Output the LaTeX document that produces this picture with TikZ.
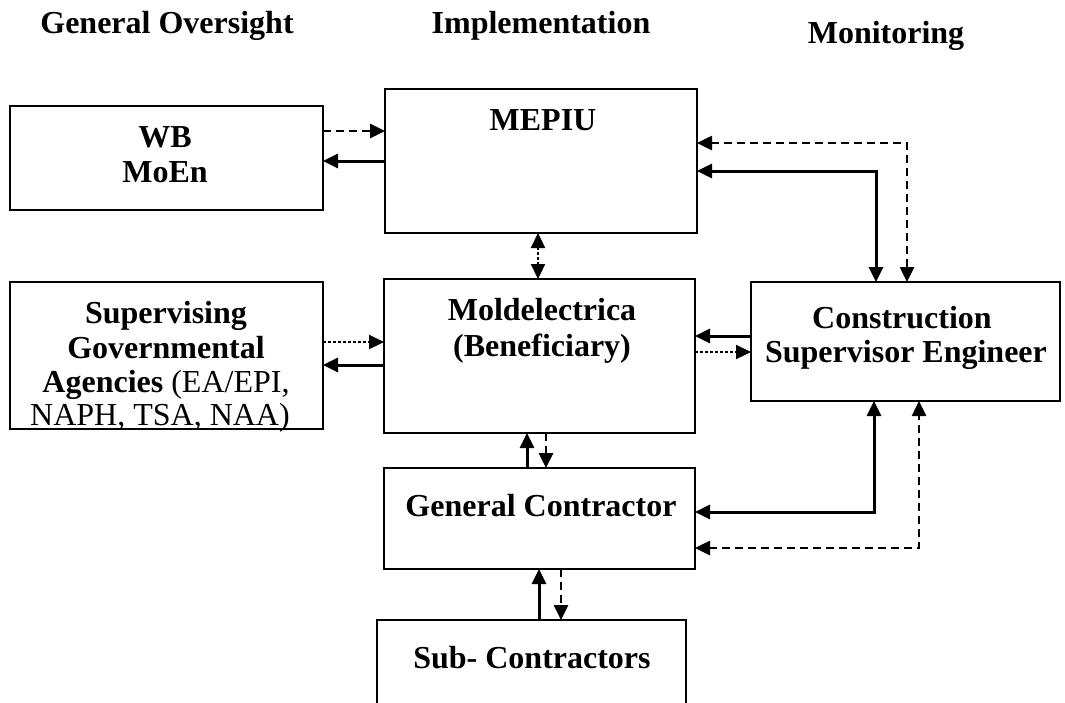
\documentclass[tikz,border=0pt]{standalone}
\usepackage{fontspec}
\setmainfont{Liberation Serif}
\usetikzlibrary{arrows.meta}
\begin{document}
\begin{tikzpicture}[x=1pt,y=-1pt,
  box/.style={draw, line width=2pt, outer sep=0pt, inner sep=0pt, anchor=north west},
  txt/.style={anchor=base, inner sep=0pt, font=\fontsize{32}{33}\selectfont\bfseries},
  plaintxt/.style={anchor=base, inner sep=0pt, font=\fontsize{32}{33}\selectfont},
  head/.style={anchor=base, inner sep=0pt, font=\fontsize{32}{33}\selectfont\bfseries},
  tip/.style={-{Triangle[length=15pt,width=14pt]}},
  tips/.style={{Triangle[length=15pt,width=14pt]}-{Triangle[length=15pt,width=14pt]}},
  solidline/.style={line width=3pt},
  dashline/.style={line width=2.6pt, dash pattern=on 8pt off 5pt},
  dotline/.style={line width=2.2pt, dash pattern=on 2.5pt off 2.5pt}]
\useasboundingbox (0,0) rectangle (1065,702);
\fill[white] (0,0) rectangle (1065,702);
% headers
\node[head] (h1) at (167,33) {General Oversight};
\node[head] (h2) at (541,33) {Implementation};
\node[head] (h3) at (886,43) {Monitoring};
% boxes
\node[box, minimum width=313pt, minimum height=104pt] (wb) at (10,106) {};
\node[box, minimum width=313pt, minimum height=147pt] (sga) at (10,282) {};
\node[box, minimum width=312pt, minimum height=144pt] (mepiu) at (385,89) {};
\node[box, minimum width=311pt, minimum height=154pt] (mold) at (384,279) {};
\node[box, minimum width=309pt, minimum height=119pt] (cse) at (751,282) {};
\node[box, minimum width=311pt, minimum height=101pt] (gc) at (384,468) {};
\node[box, draw=none, minimum width=309pt, minimum height=100pt] (sub) at (377,620) {};
\begin{scope}
\clip (0,0) rectangle (1065,702);
\draw[line width=2pt] (sub.south west) -- (sub.north west) -- (sub.north east) -- (sub.south east);
\end{scope}
% texts
\node[txt] (twb) at (165,147) {WB};
\node[txt] (tmoen) at (165,182) {MoEn};
\node[txt] (tsga1) at (166,323) {Supervising};
\node[txt] (tsga2) at (166,358) {Governmental};
\node[txt] (tsga3) at (166,392) {Agencies \mdseries(EA/EPI,};
\node[plaintxt] (tsga4) at (160,425) {NAPH, TSA, NAA)};
\node[txt] (tmepiu) at (543,130) {MEPIU};
\node[txt] (tmold1) at (542,320) {Moldelectrica};
\node[txt] (tmold2) at (542,356) {(Beneficiary)};
\node[txt] (tcse1) at (902,328) {Construction};
\node[txt] (tcse2) at (906,362) {Supervisor Engineer};
\node[txt] (tgc) at (541,516) {General Contractor};
\node[txt] (tsub) at (532,668) {Sub- Contractors};
% connectors WB - MEPIU
\draw[dashline, tip] (wb.east |- 0,131) -- (mepiu.west |- 0,131);
\draw[solidline, tip] (mepiu.west |- 0,161) -- (wb.east |- 0,161);
% MEPIU - Moldelectrica
\draw[dotline, tips] (mepiu.south -| 538,0) -- (mold.north -| 538,0);
% SGA - Moldelectrica
\draw[dotline, tip] (sga.east |- 0,342) -- (mold.west |- 0,342);
\draw[solidline, tip] (mold.west |- 0,365) -- (sga.east |- 0,365);
% CSE - Moldelectrica
\draw[solidline, tip] (cse.west |- 0,336) -- (mold.east |- 0,336);
\draw[dotline, tip] (mold.east |- 0,352) -- (cse.west |- 0,352);
% Moldelectrica - GC
\draw[solidline, tip] (gc.north -| 527,0) -- (mold.south -| 527,0);
\draw[dashline, tip] (mold.south -| 546,0) -- (gc.north -| 546,0);
% GC - Sub
\draw[solidline, tip] (sub.north -| 539,0) -- (gc.south -| 539,0);
\draw[dashline, tip] (gc.south -| 561,0) -- (sub.north -| 561,0);
% MEPIU - CSE
\draw[solidline, tips] (mepiu.east |- 0,171) -| (cse.north -| 876,0);
\draw[dashline, tips] (mepiu.east |- 0,143) -| (cse.north -| 907,0);
% CSE - GC
\draw[solidline, tips] (gc.east |- 0,512) -| (cse.south -| 874,0);
\draw[dashline, tips] (gc.east |- 0,548) -| (cse.south -| 919,0);
\end{tikzpicture}
\end{document}
